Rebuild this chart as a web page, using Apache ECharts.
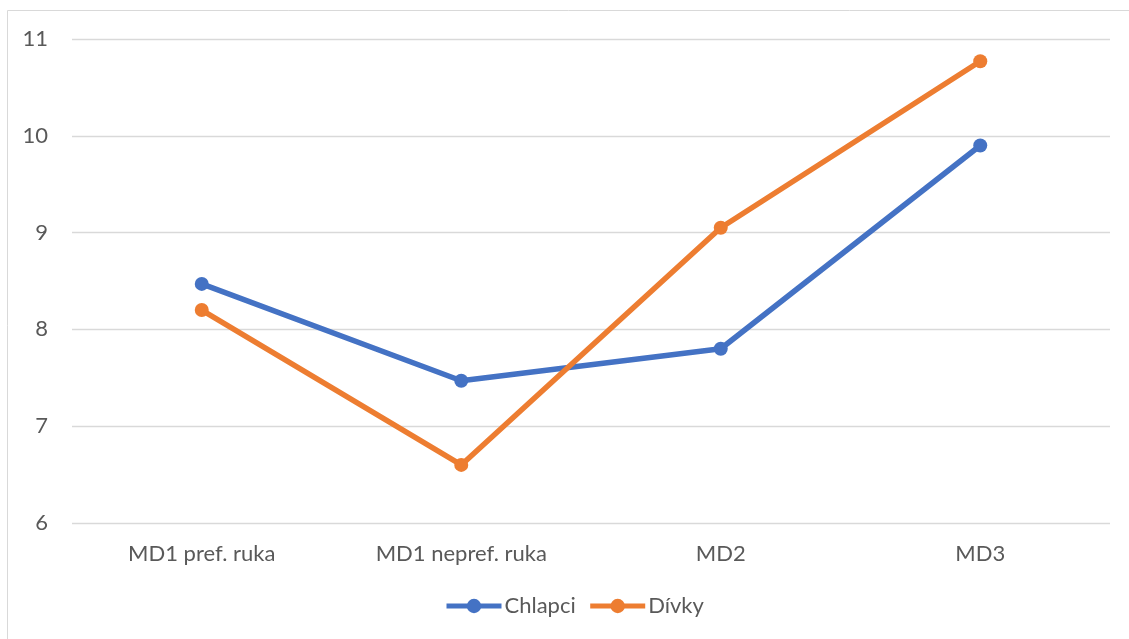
<!DOCTYPE html>
<html><head><meta charset="utf-8">
<script src="https://cdn.jsdelivr.net/npm/echarts@6/dist/echarts.min.js"></script>
<style>html,body{margin:0;padding:0;background:#fff}#c{width:1129px;height:639px}</style>
</head><body><div id="c"></div>
<script>
const categories = ['MD1 pref. ruka', 'MD1 nepref. ruka', 'MD2', 'MD3'];
const chlapci = [8.47, 7.47, 7.80, 9.90];
const divky = [8.20, 6.60, 9.05, 10.77];
const seriesNames = ['Chlapci', 'Dívky'];
const font = 'Lato, "Open Sans", sans-serif';
const chart = echarts.init(document.getElementById('c'));
chart.setOption({
  animation: false,
  graphic: [{type:'rect', shape:{x:7.5, y:10.5, width:1130, height:640}, style:{fill:'none', stroke:'#d9d9d9', lineWidth:1}, silent:true, z:-1}],
  grid: {left: 72, right: 19, top: 39, bottom: 116},
  legend: {
    bottom: 17, left: 439, itemWidth: 55, itemHeight: 18, itemGap: 12,
    lineStyle: {width: 5},
    textStyle: {fontFamily: font, fontSize: 22, color: '#595959', padding: [0,0,0,-2]},
    data: seriesNames
  },
  xAxis: {
    type: 'category', data: categories, boundaryGap: true,
    axisLine: {show: false}, axisTick: {show: false},
    axisLabel: {fontFamily: font, fontSize: 22, color: '#595959', margin: 20}
  },
  yAxis: {
    type: 'value', min: 6, max: 11, interval: 1,
    axisLine: {show: false}, axisTick: {show: false},
    axisLabel: {fontFamily: font, fontSize: 22, color: '#595959', margin: 24},
    splitLine: {lineStyle: {color: '#d9d9d9', width: 1.3}}
  },
  series: [
    {name: seriesNames[0], type: 'line', data: chlapci, symbol: 'circle', symbolSize: 14,
     lineStyle: {width: 5.5, color: '#4472c4'}, itemStyle: {color: '#4472c4'}},
    {name: seriesNames[1], type: 'line', data: divky, symbol: 'circle', symbolSize: 14,
     lineStyle: {width: 5.5, color: '#ed7d31'}, itemStyle: {color: '#ed7d31'}}
  ]
});
</script></body></html>
